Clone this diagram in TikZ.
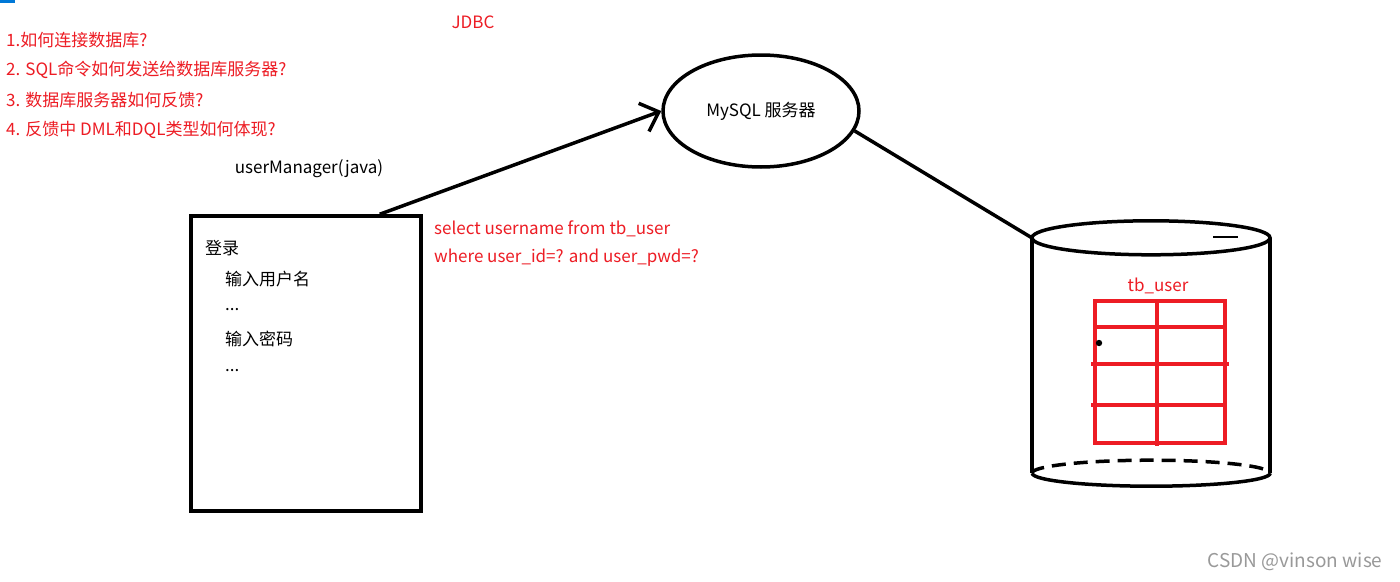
\documentclass[tikz,border=0pt]{standalone}
\usepackage{fontspec}
\setmainfont{Noto Sans CJK SC}
\usetikzlibrary{shapes.geometric,arrows.meta}
\definecolor{paintred}{RGB}{237,28,36}
\definecolor{winblue}{RGB}{0,120,215}
\begin{document}
\begin{tikzpicture}[x=1pt,y=-1pt,font=\fontsize{17}{20}\selectfont,
  q/.style={anchor=west,text=paintred,inner sep=0pt},
  t/.style={anchor=west,inner sep=0pt},
  thick line/.style={line width=3.5pt},
  grid/.style={draw=paintred,line width=3.5pt}]
  \useasboundingbox[fill=white] (0,0) rectangle (1400,581);
  \fill[winblue] (0,0) rectangle (15,3);
  \node[text=paintred] (jdbc) at (473,22){JDBC};
  \node[q] (q1) at (6,40){1.如何连接数据库?};
  \node[q] (q2) at (6,70){2. SQL命令如何发送给数据库服务器?};
  \node[q] (q3) at (6,100){3. 数据库服务器如何反馈?};
  \node[q] (q4) at (6,130){4. 反馈中 DML和DQL类型如何体现?};
  \node (title) at (309,169){userManager(java)};
  \node[draw,thick line,minimum width=230,minimum height=295] (app) at (306,363.5){};
  \node[t] (login) at (205,248){登录};
  \node[t] (user) at (225,279){输入用户名};
  \node[t] (dots1) at (225,310){...};
  \node[t] (pwd) at (225,339){输入密码};
  \node[t] (dots2) at (225,371){...};
  \node[draw,ellipse,thick line,minimum width=196,minimum height=112] (srv) at (761,111){MySQL 服务器};
  \node[q] (sql1) at (434,229){select username from tb\_user};
  \node[q] (sql2) at (434,258){where user\_id=? and user\_pwd=?};
  \node[minimum width=238,minimum height=235,inner sep=0pt] (db) at (1151,355.5){};
  \draw[thick line] (db.north) ellipse[x radius=119,y radius=17];
  \draw[thick line] (db.north west) -- (db.south west) (db.north east) -- (db.south east);
  \draw[thick line] (db.south east) arc[start angle=0,end angle=180,x radius=119,y radius=13];
  \draw[thick line,dash pattern=on 14pt off 8pt] (db.south west) arc[start angle=180,end angle=360,x radius=119,y radius=13];
  \draw[line width=1.2pt] (1213,237) -- (1238,237);
  \node[text=paintred] (tbl) at (1158,286){tb\_user};
  \draw[grid] (1095,301) rectangle (1225,443);
  \draw[grid] (1157,301) -- (1157,446);
  \draw[grid] (1095,327) -- (1227,327) (1091,364) -- (1229,364) (1091,405) -- (1225,405);
  \fill (1099,343) circle[radius=3.2];
  \draw[thick line,-{Straight Barb[length=16pt,width=30pt]}] ([xshift=-43pt]app.north east) -- (srv.west);
  \draw[thick line] (srv.-12) -- (db.north west);
  \node[anchor=east,text=black!40,font=\fontsize{19}{22}\selectfont] (mark) at (1386,562){CSDN @vinson wise};
\end{tikzpicture}
\end{document}
